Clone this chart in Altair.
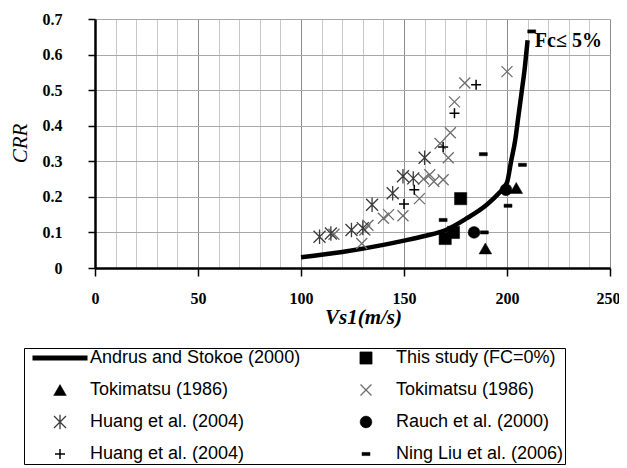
import altair as alt
import pandas as pd

# ---------------- data ----------------
# Andrus and Stokoe (2000) boundary curve
curve_vs = [100, 120, 140, 150, 160, 170, 180, 190, 196, 200, 202, 204, 205.5, 207, 208.7, 210]
curve_crr = [0.030, 0.045, 0.065, 0.077, 0.090, 0.106, 0.138, 0.177, 0.210, 0.240, 0.300, 0.360, 0.425, 0.490, 0.566, 0.640]

# This study (FC=0%)
this_vs = [170, 174, 177.5]
this_crr = [0.083, 0.100, 0.195]

# Tokimatsu (1986) - triangles
toki_tri_vs = [189.5, 204.5]
toki_tri_crr = [0.055, 0.225]

# Tokimatsu (1986) - crosses
toki_x_vs = [116, 129.5, 131, 132.5, 140, 142.5, 149.5, 157.5, 159.5, 162.5, 164.5, 169, 167.5, 171.5, 172.5, 174.5, 179.5, 200]
toki_x_crr = [0.095, 0.069, 0.107, 0.120, 0.140, 0.150, 0.147, 0.195, 0.250, 0.262, 0.243, 0.248, 0.350, 0.310, 0.380, 0.467, 0.520, 0.552]

# Huang et al. (2004) - asterisks
huang_ast_vs = [109, 114.5, 124.5, 130, 134.5, 144.5, 149.5, 154.5, 160]
huang_ast_crr = [0.088, 0.097, 0.107, 0.112, 0.178, 0.210, 0.258, 0.252, 0.310]

# Rauch et al. (2000)
rauch_vs = [184, 199.5]
rauch_crr = [0.100, 0.220]

# Huang et al. (2004) - plus
huang_plus_vs = [150, 155, 169, 174.5, 185]
huang_plus_crr = [0.180, 0.220, 0.340, 0.435, 0.515]

# Ning Liu et al. (2006)
ning_vs = [169, 189, 188.5, 200.5, 207.5, 212]
ning_crr = [0.135, 0.100, 0.320, 0.175, 0.290, 0.665]

# annotation
annot_vs = [213.5]
annot_crr = [0.637]
annot_text = ["Fc\u2264 5%"]

# legend entries, in the legend's column-major order (two columns of four)
series_keys = ["andrus", "toki_tri", "huang_ast", "huang_plus", "this", "toki_x", "rauch", "ning"]
series_labels = ["Andrus and Stokoe (2000)", "Tokimatsu (1986)", "Huang et al. (2004)", "Huang et al. (2004)",
                 "This study (FC=0%)", "Tokimatsu (1986)", "Rauch et al. (2000)", "Ning Liu et al. (2006)"]

x_ticks = list(range(0, 251, 10))
y_ticks = [0, 0.1, 0.2, 0.3, 0.4, 0.5, 0.6, 0.7]

# ---------------- tables ----------------
pts = []
for key, xs, ys in [("this", this_vs, this_crr), ("toki_tri", toki_tri_vs, toki_tri_crr),
                    ("toki_x", toki_x_vs, toki_x_crr), ("huang_ast", huang_ast_vs, huang_ast_crr),
                    ("rauch", rauch_vs, rauch_crr), ("huang_plus", huang_plus_vs, huang_plus_crr),
                    ("ning", ning_vs, ning_crr)]:
    for a, b in zip(xs, ys):
        pts.append({"vs": a, "crr": b, "series": key})
points_df = pd.DataFrame(pts)
curve_df = pd.DataFrame({"vs": curve_vs, "crr": curve_crr})
annot_df = pd.DataFrame({"vs": annot_vs, "crr": annot_crr, "t": annot_text})

# ---------------- styles ----------------
X_PATH = "M-1,-1L1,1M-1,1L1,-1"
AST_PATH = "M-1,-1L1,1M-1,1L1,-1M0,-1.2L0,1.2"
PLUS_PATH = "M-1,0L1,0M0,-1L0,1"
DASH_PATH = "M-1,-0.4L1,-0.4L1,0.4L-1,0.4Z"
style = {
    #             shape          fill           stroke     width  size
    "andrus":     ("stroke",     "transparent", "black",   5.0,   3025),
    "this":       ("square",     "black",       "black",   0.5,   150),
    "toki_tri":   ("triangle-up", "black",      "black",   0.5,   160),
    "toki_x":     (X_PATH,       "transparent", "#6e6e6e", 1.3,   121),
    "huang_ast":  (AST_PATH,     "transparent", "#3a3a3a", 1.3,   144),
    "rauch":      ("circle",     "black",       "black",   0.5,   140),
    "huang_plus": (PLUS_PATH,    "transparent", "black",   1.5,   100),
    "ning":       (DASH_PATH,    "black",       "black",   0.5,   64),
}
shape_range = [style[k][0] for k in series_keys]
fill_range = [style[k][1] for k in series_keys]
stroke_range = [style[k][2] for k in series_keys]
sw_range = [style[k][3] for k in series_keys]
size_range = [style[k][4] for k in series_keys]

label_expr = ""
for k, l in zip(series_keys, series_labels):
    label_expr += f"datum.label == '{k}' ? '{l}' : "
label_expr += "datum.label"

SERIF = "Liberation Serif"
SANS = "Liberation Sans"

x_scale = alt.Scale(domain=[0, 250], nice=False, zero=False)
y_scale = alt.Scale(domain=[0, 0.7], nice=False)

x_axis = alt.Axis(
    values=x_ticks,
    labelExpr="datum.value % 50 == 0 ? datum.label : ''",
    labelFlush=False, labelOverlap=False,
    labelAlign={"condition": {"test": "datum.value == 250", "value": "right"}, "value": "center"},
    labelOffset={"condition": {"test": "datum.value == 250", "value": 10}, "value": 0},
    grid=True,
    gridColor={"condition": {"test": "datum.value % 50 == 0", "value": "#8c8c8c"}, "value": "#c8c8c8"},
    gridWidth=1,
    tickOpacity={"condition": {"test": "datum.value % 50 == 0", "value": 1}, "value": 0},
    tickSize=8, tickColor="black", tickWidth=1.5,
    domainColor="black", domainWidth=2.5,
    labelFont=SERIF, labelFontSize=16, labelFontWeight="bold", labelColor="black", labelPadding=14,
    title="Vs1(m/s)", titleFont=SERIF, titleFontSize=21, titleFontStyle="italic", titleFontWeight="bold",
    titleColor="black", titleX=268, titleY=49, titleBaseline="middle", titleAnchor="middle", titleAlign="center",
)
y_axis = alt.Axis(
    values=y_ticks,
    labelExpr="datum.value == 0 ? '0' : format(datum.value, '.1f')",
    grid=True, gridColor="#a8a8a8", gridWidth=1,
    tickSize=7, tickColor="black", tickWidth=1.5,
    domainColor="black", domainWidth=2.5,
    labelFont=SERIF, labelFontSize=16, labelFontWeight="bold", labelColor="black", labelPadding=26,
    title="CRR", titleFont=SERIF, titleFontSize=21, titleFontStyle="italic", titleFontWeight="normal",
    titleColor="black", titleX=-75, titleY=124, titleBaseline="middle", titleAngle=270, titleAlign="center",
)

legend = alt.Legend(
    title=None, orient="none", legendX=-71, legendY=329,
    columns=2, columnPadding=30, rowPadding=14,
    clipHeight=18, padding=1, symbolOffset=5,
    strokeColor="black", fillColor="white",
    labelFont=SANS, labelFontSize=18, labelColor="black", labelOffset=0, labelLimit=400,
    labelExpr=label_expr, symbolOpacity=1,
)

curve = alt.Chart(curve_df).mark_line(color="black", strokeWidth=4.5, interpolate="monotone").encode(
    x=alt.X("vs:Q", scale=x_scale, axis=x_axis),
    y=alt.Y("crr:Q", scale=y_scale, axis=y_axis),
)

points = alt.Chart(points_df).mark_point(filled=True, opacity=1).encode(
    x=alt.X("vs:Q", scale=x_scale, axis=x_axis),
    y=alt.Y("crr:Q", scale=y_scale, axis=y_axis),
    shape=alt.Shape("series:N", scale=alt.Scale(domain=series_keys, range=shape_range), legend=legend),
    fill=alt.Fill("series:N", scale=alt.Scale(domain=series_keys, range=fill_range), legend=legend),
    stroke=alt.Stroke("series:N", scale=alt.Scale(domain=series_keys, range=stroke_range), legend=legend),
    strokeWidth=alt.StrokeWidth("series:N", scale=alt.Scale(type="ordinal", domain=series_keys, range=sw_range), legend=legend),
    size=alt.Size("series:N", scale=alt.Scale(type="ordinal", domain=series_keys, range=size_range), legend=legend),
)

annot = alt.Chart(annot_df).mark_text(
    align="left", baseline="middle", font=SERIF, fontSize=20, fontWeight="bold", color="black"
).encode(
    x=alt.X("vs:Q", scale=x_scale, axis=x_axis),
    y=alt.Y("crr:Q", scale=y_scale, axis=y_axis),
    text="t:N",
)

chart = alt.layer(curve, points, annot).properties(
    width=515, height=249,
    autosize=alt.AutoSizeParams(type="none"),
    padding={"left": 87, "top": 11, "right": 9, "bottom": 197},
).configure_view(stroke="black", strokeWidth=2).configure(background="white")

chart.save("out.html", embed_options={"renderer": "svg", "actions": False})
